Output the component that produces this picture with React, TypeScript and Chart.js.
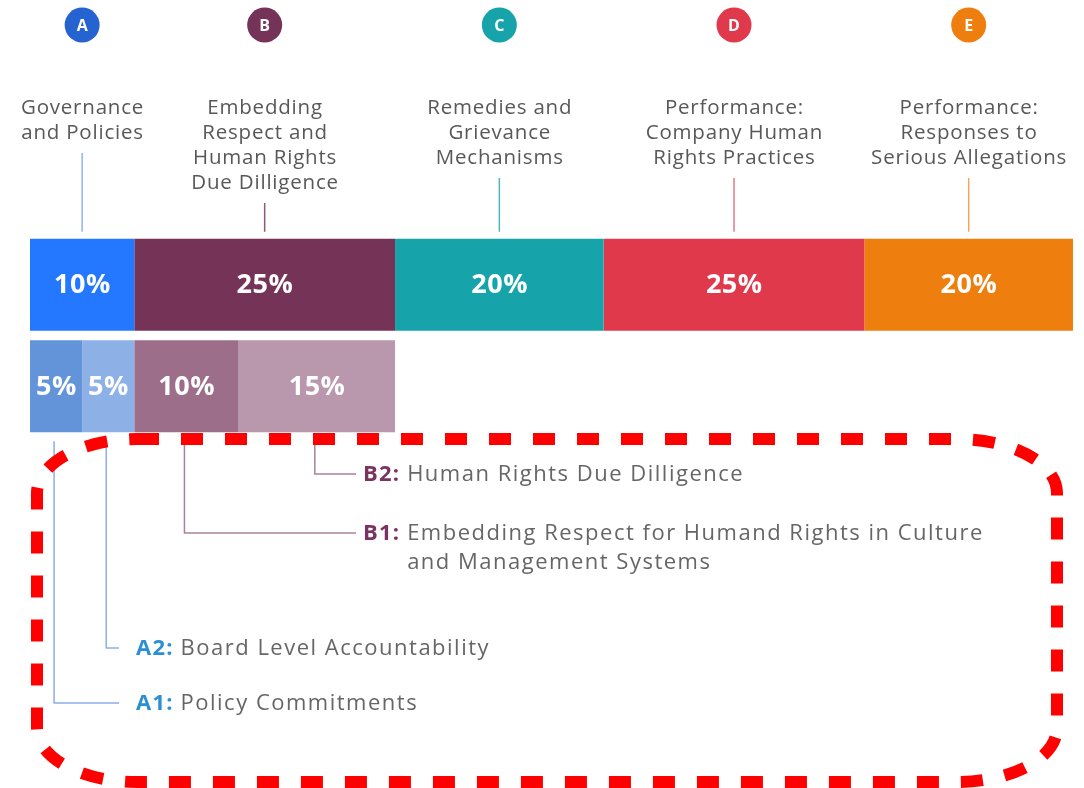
import React, { useEffect, useRef } from "react";
import { Chart, registerables } from "chart.js";

Chart.register(...registerables);

// ---- data ----
const rowLabels = ["Category", "Sub-category"];
const mainCodes = ["A", "B", "C", "D", "E"];
const mainValues = [10, 25, 20, 25, 20];
const mainTitles = [
  ["Governance", "and Policies"],
  ["Embedding", "Respect and", "Human Rights", "Due Dilligence"],
  ["Remedies and", "Grievance", "Mechanisms"],
  ["Performance:", "Company Human", "Rights Practices"],
  ["Performance:", "Responses to", "Serious Allegations"],
];
const subCodes = ["A1", "A2", "B1", "B2"];
const subParents = ["A", "A", "B", "B"];
const subValues = [5, 5, 10, 15];
const subTitles = [
  ["Policy Commitments"],
  ["Board Level Accountability"],
  ["Embedding Respect for Humand Rights in Culture", "and Management Systems"],
  ["Human Rights Due Dilligence"],
];

// ---- styles ----
const mainColors = ["#2478FF", "#743357", "#17A3AA", "#E0394B", "#EE7F0E"];
const circleColors = ["#2563D1", "#743357", "#17A3AA", "#E0394B", "#EE7F0E"];
const topLeaderColors = ["#8FB5EE", "#8E5A7A", "#4DB6BA", "#E77583", "#F2A35E"];
const subColors = ["#6394DA", "#8DB0E6", "#9C6E89", "#B997AC"];
const parentPrefixColor: Record<string, string> = { A: "#2A8FD4", B: "#7B3461" };
const parentLeaderColor: Record<string, string> = { A: "#8AB0E6", B: "#A98399" };
const subLabelY = [703, 648, 533, 474]; // horizontal leader heights
const subTextX: Record<string, number> = { A: 136, B: 363 };
const subLineEndX: Record<string, number> = { A: 119, B: 356 };

const FONT = '"Open Sans", "DejaVu Sans", sans-serif';

function centerText(ctx: any, text: string, cx: number, y: number, spacing: number) {
  ctx.letterSpacing = `${spacing}px`;
  ctx.textAlign = "left";
  const w = ctx.measureText(text).width - spacing;
  ctx.fillText(text, cx - w / 2, y);
  ctx.letterSpacing = "0px";
}

const annotPlugin = {
  id: "annot",
  afterDatasetsDraw(chart: any) {
    const ctx = chart.ctx;
    const area = chart.chartArea;
    ctx.save();

    // percentage labels in bars
    chart.data.datasets.forEach((ds: any, di: number) => {
      const meta = chart.getDatasetMeta(di);
      meta.data.forEach((el: any, i: number) => {
        const v = ds.data[i];
        if (v == null) return;
        const cx = (el.x + el.base) / 2;
        ctx.fillStyle = "#ffffff";
        ctx.font = `bold 27px ${FONT}`;
        ctx.textBaseline = "middle";
        centerText(ctx, `${v}%`, cx, el.y + 1, 0.5);
      });
    });

    // top annotations
    mainCodes.forEach((code, i) => {
      const el = chart.getDatasetMeta(i).data[0];
      const cx = (el.x + el.base) / 2;
      const barTop = el.y - el.height / 2;
      ctx.fillStyle = circleColors[i];
      ctx.beginPath();
      ctx.arc(cx, 25, 17.5, 0, Math.PI * 2);
      ctx.fill();
      ctx.fillStyle = "#fff";
      ctx.font = `bold 16px ${FONT}`;
      ctx.textAlign = "center";
      ctx.textBaseline = "middle";
      ctx.fillText(code, cx, 26);
      ctx.fillStyle = "#585858";
      ctx.font = `20.5px ${FONT}`;
      const lines = mainTitles[i];
      lines.forEach((ln, k) => centerText(ctx, ln, cx, 108 + k * 25, 0.8));
      const lastY = 108 + (lines.length - 1) * 25;
      ctx.strokeStyle = topLeaderColors[i];
      ctx.lineWidth = 1.5;
      ctx.beginPath();
      ctx.moveTo(cx, lastY + 20);
      ctx.lineTo(cx, barTop - 7);
      ctx.stroke();
    });

    // sub annotations
    subCodes.forEach((code, j) => {
      const el = chart.getDatasetMeta(mainCodes.length + j).data[1];
      const cx = (el.x + el.base) / 2 - 2;
      const barBottom = el.y + el.height / 2;
      const p = subParents[j];
      const y = subLabelY[j];
      ctx.strokeStyle = parentLeaderColor[p];
      ctx.lineWidth = 1.5;
      ctx.beginPath();
      ctx.moveTo(cx, barBottom + 9);
      ctx.lineTo(cx, y);
      ctx.lineTo(subLineEndX[p], y);
      ctx.stroke();

      const tx = subTextX[p];
      ctx.textAlign = "left";
      ctx.textBaseline = "middle";
      ctx.letterSpacing = "1.2px";
      ctx.font = `bold 22px ${FONT}`;
      ctx.fillStyle = parentPrefixColor[p];
      const prefix = `${code}: `;
      ctx.fillText(prefix, tx, y + 1);
      const pw = ctx.measureText(prefix).width;
      ctx.font = `22px ${FONT}`;
      ctx.letterSpacing = "1.5px";
      ctx.fillStyle = "#666666";
      subTitles[j].forEach((ln, k) => ctx.fillText(ln, tx + pw, y + 1 + k * 29));
      ctx.letterSpacing = "0px";
    });

    // red dashed rounded rectangle
    const x0 = area.left + 7, x1 = area.right - 16;
    const y0 = area.bottom + 2, y1 = 782;
    const rx = 100, ry = 54;
    ctx.strokeStyle = "#FF0000";
    ctx.lineWidth = 12;
    ctx.setLineDash([22, 22]);
    ctx.lineCap = "butt";
    ctx.beginPath();
    ctx.moveTo(x0 + rx, y0);
    ctx.lineTo(x1 - rx, y0);
    ctx.ellipse(x1 - rx, y0 + ry, rx, ry, 0, -Math.PI / 2, 0);
    ctx.lineTo(x1, y1 - ry);
    ctx.ellipse(x1 - rx, y1 - ry, rx, ry, 0, 0, Math.PI / 2);
    ctx.lineTo(x0 + rx, y1);
    ctx.ellipse(x0 + rx, y1 - ry, rx, ry, 0, Math.PI / 2, Math.PI);
    ctx.lineTo(x0, y0 + ry);
    ctx.ellipse(x0 + rx, y0 + ry, rx, ry, 0, Math.PI, Math.PI * 1.5);
    ctx.closePath();
    ctx.stroke();
    ctx.restore();
  },
};

export default function App() {
  const ref = useRef<HTMLCanvasElement>(null);
  useEffect(() => {
    if (!ref.current) return;
    const datasets: any[] = [];
    mainCodes.forEach((c, i) =>
      datasets.push({
        label: c,
        data: [mainValues[i], null],
        backgroundColor: mainColors[i],
        borderWidth: 0,
      })
    );
    subCodes.forEach((c, j) =>
      datasets.push({
        label: c,
        data: [null, subValues[j]],
        backgroundColor: subColors[j],
        borderWidth: 0,
      })
    );
    const chart = new Chart(ref.current, {
      type: "bar",
      data: { labels: rowLabels, datasets },
      options: {
        indexAxis: "y",
        animation: false,
        responsive: false,
        maintainAspectRatio: false,
        layout: { padding: { left: 30, right: 11, top: 234, bottom: 351 } },
        datasets: { bar: { barPercentage: 0.906, categoryPercentage: 1 } },
        scales: {
          x: { stacked: true, min: 0, max: 100, display: false },
          y: { stacked: true, display: false },
        },
        plugins: { legend: { display: false }, tooltip: { enabled: false } },
      },
      plugins: [annotPlugin],
    } as any);
    return () => chart.destroy();
  }, []);
  return (
    <div style={{ position: "fixed", left: 0, top: 0, width: 1084, height: 788, background: "#fff" }}>
      <canvas ref={ref} width={1084} height={788} style={{ display: "block" }} />
    </div>
  );
}
